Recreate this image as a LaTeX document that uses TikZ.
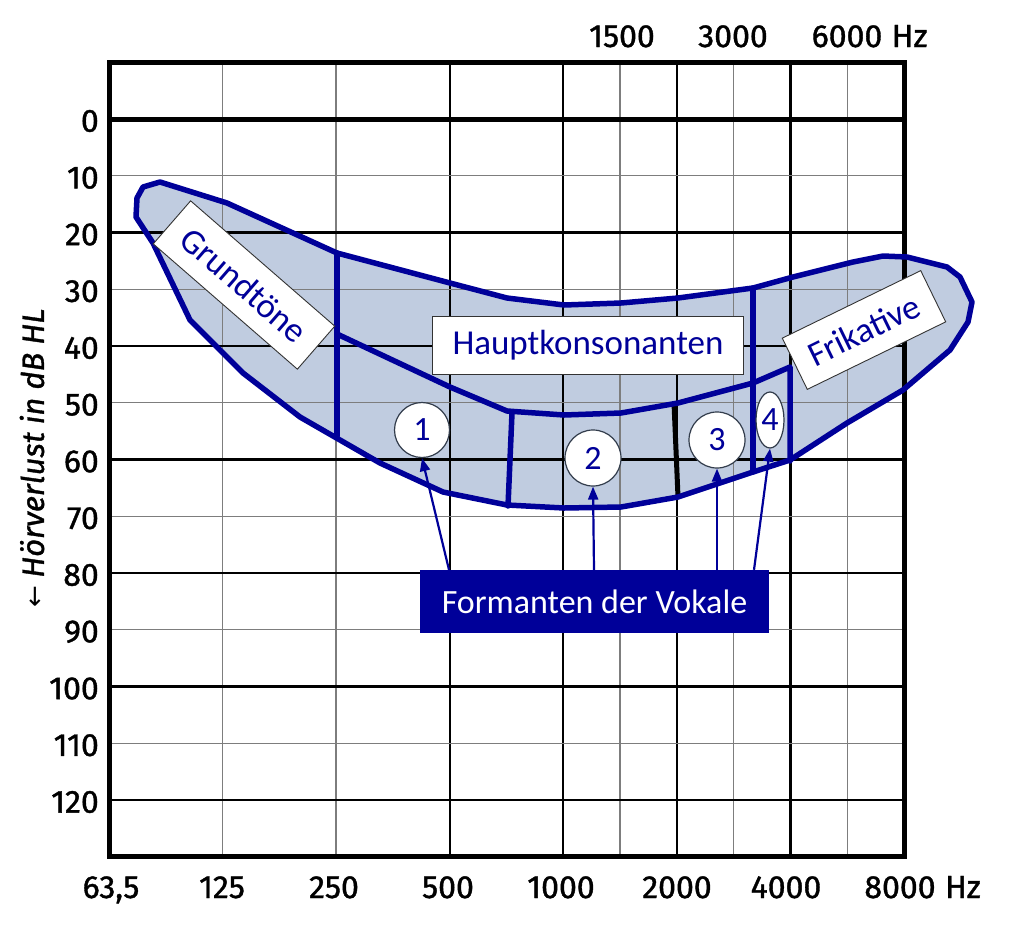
\documentclass[tikz,border=0pt]{standalone}
\usepackage{fontspec}
\setmainfont{Fira Sans}[FakeBold=1.2]
\newfontfamily\calibri{Carlito}
\newfontfamily\dejavu{DejaVu Sans}
\usetikzlibrary{arrows.meta,shapes.geometric}
\definecolor{bdark}{RGB}{0,0,153}
\definecolor{bfill}{RGB}{192,204,224}
\definecolor{ggrid}{RGB}{125,125,125}
\definecolor{slate}{RGB}{50,60,75}
\begin{document}
\begin{tikzpicture}[x=1pt,y=-1pt,
  gridb/.style={black, line width=2.2pt},
  gridg/.style={ggrid, line width=1.3pt},
  outl/.style={bdark, line width=5.5pt, line join=round, line cap=round},
  lbl/.style={draw=black!80, line width=0.9pt, fill=white, text=bdark, font=\calibri\fontsize{35}{35}\selectfont, inner sep=0pt, minimum height=57pt},
  circ/.style={circle, draw=slate, line width=1.2pt, fill=white, text=bdark, minimum size=55pt, inner sep=0pt, font=\calibri\fontsize{34}{34}\selectfont},
  ptr/.style={bdark, line width=2.2pt, -{Triangle[length=13pt,width=10pt]}},
  tick/.style={font=\fontsize{32}{32}\selectfont, inner sep=0pt}]
\useasboundingbox (0,0) rectangle (1024,929);
% shape fill
\path[fill=bfill] (160,182) -- (227,203) -- (337,253) -- (450,283) -- (507,298) -- (564,305) -- (621,303) -- (678,298) -- (753,288) -- (793,277) -- (853,262) -- (883,256) -- (907,257) -- (947,267) -- (960,277) -- (972,302) -- (968,322) -- (950,350) -- (903,390) -- (847,423) -- (790,460) -- (753,472) -- (678,497) -- (621,507) -- (564,508) -- (507,505) -- (443,492) -- (380,463) -- (300,417) -- (243,373) -- (190,320) -- (153,243) -- (136,217) -- (137,198) -- (143,187) -- cycle;
% grid
\foreach \i in {2,4,9,11,13}{\draw[gridg] ({109+56.7857*\i},62) -- ({109+56.7857*\i},856);}
\foreach \i in {6,8,10,12}{\draw[gridb] ({109+56.7857*\i},62) -- ({109+56.7857*\i},856);}
\foreach \k in {2,4,...,12}{\draw[gridg] (109,{62.25+56.75*\k}) -- (904,{62.25+56.75*\k});}
\foreach \k in {3,5,...,13}{\draw[gridb] (109,{62.25+56.75*\k}) -- (904,{62.25+56.75*\k});}
\draw[black, line width=5pt] (109,119) -- (904,119);
% frame
\draw[black, line width=5pt] (109,62) rectangle (904,856);
% black segment at 2000 Hz
\draw[black, line width=5pt] (674,403) -- (678,497);
% outlines
\draw[outl] (160,182) -- (227,203) -- (337,253) -- (450,283) -- (507,298) -- (564,305) -- (621,303) -- (678,298) -- (753,288) -- (793,277) -- (853,262) -- (883,256) -- (907,257) -- (947,267) -- (960,277) -- (972,302) -- (968,322) -- (950,350) -- (903,390) -- (847,423) -- (790,460) -- (753,472) -- (678,497) -- (621,507) -- (564,508) -- (507,505) -- (443,492) -- (380,463) -- (300,417) -- (243,373) -- (190,320) -- (153,243) -- (136,217) -- (137,198) -- (143,187) -- cycle;
\draw[outl] (337,253) -- (337,436);
\draw[outl] (337,334) -- (450,387) -- (507,411) -- (564,415) -- (621,413) -- (678,403) -- (753,383) -- (790,367) -- (790,461);
\draw[outl] (512,413) -- (508,506);
\draw[outl] (753,288) -- (753,472);
% labels
\node[lbl, rotate=-41, minimum width=191pt] (grund) at (244,285) {Grundtöne};
\node[lbl, minimum width=311pt, minimum height=58pt] (haupt) at (588,345) {Hauptkonsonanten};
\node[lbl, rotate=26, minimum width=154pt] (frik) at (864,330) {Frikative};
% circles
\node[circ] (c1) at (422,430) {1};
\node[circ, minimum size=56pt] (c2) at (593,458) {2};
\node[circ, minimum size=56pt] (c3) at (717,440) {3};
\node[circ, ellipse, minimum size=0pt, minimum width=28pt, minimum height=56pt] (c4) at (770,420) {4};
% formanten box
\node[fill=bdark, text=white, minimum width=349pt, minimum height=63pt, inner sep=0pt, font=\calibri\fontsize{34}{34}\selectfont] (form) at (594.5,601.5) {Formanten der Vokale};
\draw[ptr] (form.north -| 449,0) -- (c1.south);
\draw[ptr] (form.north -| 594,0) -- (c2.south);
\draw[ptr] (form.north -| 717,0) -- (c3.south);
\draw[ptr] (form.north -| 754,0) -- (c4.south);
% left tick labels
\foreach \v [count=\k from 1] in {0,10,20,30,40,50,60,70,80,90,100,110,120}{
  \node[tick, anchor=east] (yl\k) at (99,{64.25+56.75*\k}) {\v};}
% bottom tick labels
\node[tick, anchor=base] (b0) at (111,898) {63,5};
\node[tick, anchor=base] (b1) at (222,898) {125};
\node[tick, anchor=base] (b2) at (334,898) {250};
\node[tick, anchor=base] (b3) at (448,898) {500};
\node[tick, anchor=base] (b4) at (561,898) {1000};
\node[tick, anchor=base] (b5) at (677,898) {2000};
\node[tick, anchor=base] (b6) at (786,898) {4000};
\node[tick, anchor=base] (b7) at (900,898) {8000};
\node[tick, anchor=base west] (bhz) at ([xshift=9pt]b7.base east) {Hz};
% top tick labels
\node[tick, anchor=base] (t1) at (622,47) {1500};
\node[tick, anchor=base] (t2) at (733,47) {3000};
\node[tick, anchor=base] (t3) at (847,47) {6000};
\node[tick, anchor=base west] (thz) at ([xshift=9pt]t3.base east) {Hz};
% axis label
\node[rotate=90, inner sep=0pt, font=\itshape\fontsize{31}{31}\selectfont] (ylab) at (32,458) {{\upshape\dejavu\fontsize{26}{26}\selectfont ←} Hörverlust in dB HL};
\end{tikzpicture}
\end{document}
